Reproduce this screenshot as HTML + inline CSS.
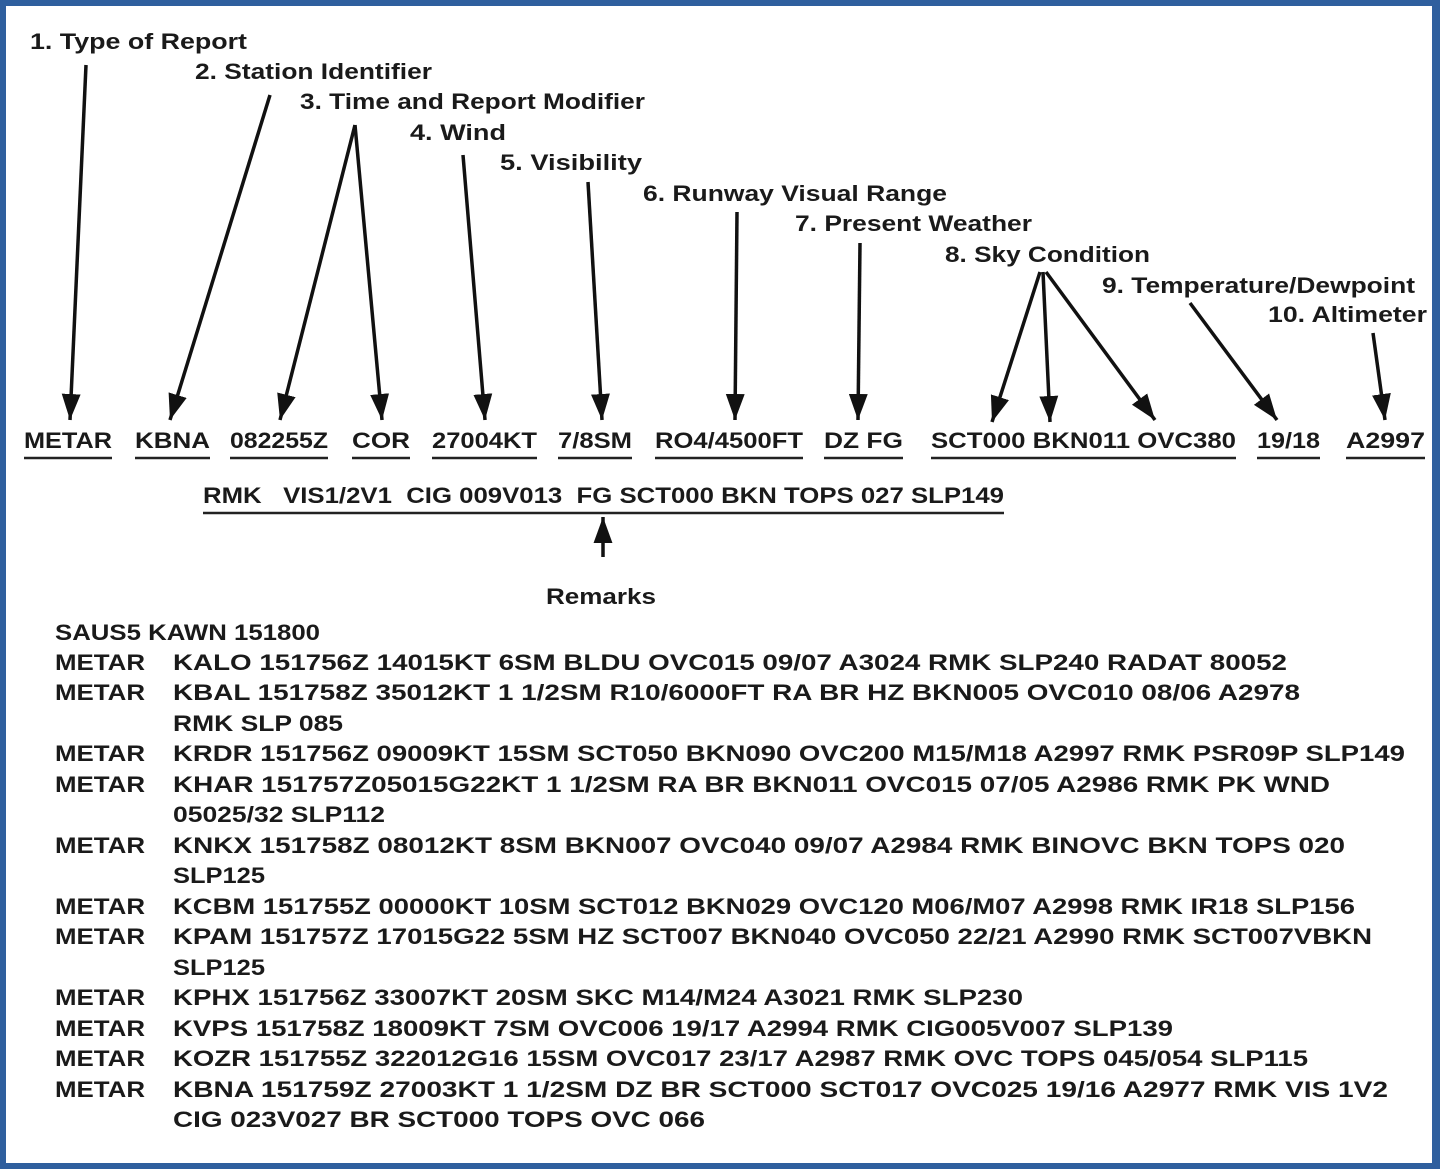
<!DOCTYPE html>
<html><head><meta charset="utf-8"><style>
html,body{margin:0;padding:0;background:#fff}
svg{display:block}
text{font-family:"Liberation Sans",Arial,sans-serif;font-weight:bold;font-size:22px;fill:#1a1a1a}
</style></head><body>
<svg width="1440" height="1169" viewBox="0 0 1440 1169" xmlns="http://www.w3.org/2000/svg">
<defs>
<marker id="a" viewBox="0 0 22 16" refX="22" refY="8" markerWidth="26" markerHeight="19" markerUnits="userSpaceOnUse" orient="auto"><path d="M0,0 L22,8 L0,16 z" fill="#111"/></marker>
</defs>
<rect x="0" y="0" width="1440" height="1169" fill="#2f5f9e"/>
<rect x="6" y="6" width="1426" height="1157" fill="#fff"/>
<g>
<text x="30" y="49" textLength="217" lengthAdjust="spacingAndGlyphs">1.  Type of Report</text>
<text x="195" y="79" textLength="237" lengthAdjust="spacingAndGlyphs">2.  Station Identifier</text>
<text x="300" y="109" textLength="345" lengthAdjust="spacingAndGlyphs">3.  Time and Report Modifier</text>
<text x="410" y="140" textLength="96" lengthAdjust="spacingAndGlyphs">4.  Wind</text>
<text x="500" y="170" textLength="142" lengthAdjust="spacingAndGlyphs">5.  Visibility</text>
<text x="643" y="201" textLength="304" lengthAdjust="spacingAndGlyphs">6.  Runway Visual Range</text>
<text x="795" y="231" textLength="237" lengthAdjust="spacingAndGlyphs">7.  Present Weather</text>
<text x="945" y="262" textLength="205" lengthAdjust="spacingAndGlyphs">8.  Sky Condition</text>
<text x="1102" y="293" textLength="313" lengthAdjust="spacingAndGlyphs">9.  Temperature/Dewpoint</text>
<text x="1268" y="322" textLength="159" lengthAdjust="spacingAndGlyphs">10.  Altimeter</text>
</g>
<g stroke="#111" stroke-width="3.5" fill="none" marker-end="url(#a)">
<line x1="86" y1="65" x2="70" y2="420"/>
<line x1="270" y1="95" x2="170" y2="420"/>
<line x1="355" y1="125" x2="280" y2="420"/>
<line x1="355" y1="125" x2="382" y2="420"/>
<line x1="463" y1="155" x2="485" y2="420"/>
<line x1="588" y1="182" x2="602" y2="420"/>
<line x1="737" y1="212" x2="735" y2="420"/>
<line x1="860" y1="243" x2="858" y2="420"/>
<line x1="1040" y1="272" x2="992" y2="422"/>
<line x1="1043" y1="272" x2="1050" y2="422"/>
<line x1="1046" y1="272" x2="1155" y2="420"/>
<line x1="1190" y1="303" x2="1277" y2="420"/>
<line x1="1373" y1="333" x2="1385" y2="420"/>
<line x1="603" y1="557" x2="603" y2="517"/>
</g>
<g>
<text x="24" y="448" textLength="88" lengthAdjust="spacingAndGlyphs">METAR</text>
<text x="135" y="448" textLength="75" lengthAdjust="spacingAndGlyphs">KBNA</text>
<text x="230" y="448" textLength="98" lengthAdjust="spacingAndGlyphs">082255Z</text>
<text x="352" y="448" textLength="58" lengthAdjust="spacingAndGlyphs">COR</text>
<text x="432" y="448" textLength="105" lengthAdjust="spacingAndGlyphs">27004KT</text>
<text x="558" y="448" textLength="74" lengthAdjust="spacingAndGlyphs">7/8SM</text>
<text x="655" y="448" textLength="148" lengthAdjust="spacingAndGlyphs">RO4/4500FT</text>
<text x="824" y="448" textLength="79" lengthAdjust="spacingAndGlyphs">DZ FG</text>
<text x="931" y="448" textLength="305" lengthAdjust="spacingAndGlyphs">SCT000 BKN011 OVC380</text>
<text x="1257" y="448" textLength="63" lengthAdjust="spacingAndGlyphs">19/18</text>
<text x="1346" y="448" textLength="79" lengthAdjust="spacingAndGlyphs">A2997</text>
<text x="203" y="503" textLength="801" lengthAdjust="spacingAndGlyphs" xml:space="preserve">RMK   VIS1/2V1  CIG 009V013  FG SCT000 BKN TOPS 027 SLP149</text>
<text x="546" y="604" textLength="110" lengthAdjust="spacingAndGlyphs">Remarks</text>
</g>
<g stroke="#222" stroke-width="2.5">
<line x1="24" y1="458" x2="112" y2="458"/>
<line x1="135" y1="458" x2="210" y2="458"/>
<line x1="230" y1="458" x2="328" y2="458"/>
<line x1="352" y1="458" x2="410" y2="458"/>
<line x1="432" y1="458" x2="537" y2="458"/>
<line x1="558" y1="458" x2="632" y2="458"/>
<line x1="655" y1="458" x2="803" y2="458"/>
<line x1="824" y1="458" x2="903" y2="458"/>
<line x1="931" y1="458" x2="1236" y2="458"/>
<line x1="1257" y1="458" x2="1320" y2="458"/>
<line x1="1346" y1="458" x2="1425" y2="458"/>
<line x1="203" y1="513" x2="1004" y2="513"/>
</g>
<g>
<text x="55" y="640" textLength="265" lengthAdjust="spacingAndGlyphs">SAUS5 KAWN 151800</text>
<text x="55" y="670" textLength="90" lengthAdjust="spacingAndGlyphs">METAR</text><text x="173" y="670" textLength="1114" lengthAdjust="spacingAndGlyphs">KALO  151756Z  14015KT  6SM  BLDU  OVC015  09/07  A3024  RMK  SLP240  RADAT  80052</text>
<text x="55" y="700" textLength="90" lengthAdjust="spacingAndGlyphs">METAR</text><text x="173" y="700" textLength="1127" lengthAdjust="spacingAndGlyphs">KBAL  151758Z  35012KT  1  1/2SM  R10/6000FT  RA  BR  HZ  BKN005  OVC010  08/06  A2978</text>
<text x="173" y="731" textLength="170" lengthAdjust="spacingAndGlyphs">RMK  SLP 085</text>
<text x="55" y="761" textLength="90" lengthAdjust="spacingAndGlyphs">METAR</text><text x="173" y="761" textLength="1232" lengthAdjust="spacingAndGlyphs">KRDR  151756Z  09009KT  15SM  SCT050  BKN090  OVC200  M15/M18  A2997  RMK  PSR09P  SLP149</text>
<text x="55" y="792" textLength="90" lengthAdjust="spacingAndGlyphs">METAR</text><text x="173" y="792" textLength="1157" lengthAdjust="spacingAndGlyphs">KHAR  151757Z05015G22KT  1  1/2SM  RA  BR  BKN011  OVC015  07/05  A2986  RMK  PK  WND</text>
<text x="173" y="822" textLength="212" lengthAdjust="spacingAndGlyphs">05025/32  SLP112</text>
<text x="55" y="853" textLength="90" lengthAdjust="spacingAndGlyphs">METAR</text><text x="173" y="853" textLength="1172" lengthAdjust="spacingAndGlyphs">KNKX  151758Z  08012KT  8SM  BKN007  OVC040  09/07  A2984  RMK  BINOVC  BKN  TOPS  020</text>
<text x="173" y="883" textLength="92" lengthAdjust="spacingAndGlyphs">SLP125</text>
<text x="55" y="914" textLength="90" lengthAdjust="spacingAndGlyphs">METAR</text><text x="173" y="914" textLength="1182" lengthAdjust="spacingAndGlyphs">KCBM  151755Z  00000KT  10SM  SCT012  BKN029  OVC120  M06/M07  A2998  RMK IR18  SLP156</text>
<text x="55" y="944" textLength="90" lengthAdjust="spacingAndGlyphs">METAR</text><text x="173" y="944" textLength="1199" lengthAdjust="spacingAndGlyphs">KPAM  151757Z  17015G22  5SM  HZ  SCT007  BKN040  OVC050  22/21  A2990  RMK  SCT007VBKN</text>
<text x="173" y="975" textLength="92" lengthAdjust="spacingAndGlyphs">SLP125</text>
<text x="55" y="1005" textLength="90" lengthAdjust="spacingAndGlyphs">METAR</text><text x="173" y="1005" textLength="850" lengthAdjust="spacingAndGlyphs">KPHX  151756Z  33007KT  20SM  SKC  M14/M24  A3021  RMK  SLP230</text>
<text x="55" y="1036" textLength="90" lengthAdjust="spacingAndGlyphs">METAR</text><text x="173" y="1036" textLength="1000" lengthAdjust="spacingAndGlyphs">KVPS  151758Z  18009KT  7SM  OVC006  19/17  A2994  RMK  CIG005V007  SLP139</text>
<text x="55" y="1066" textLength="90" lengthAdjust="spacingAndGlyphs">METAR</text><text x="173" y="1066" textLength="1135" lengthAdjust="spacingAndGlyphs">KOZR  151755Z  322012G16  15SM  OVC017  23/17  A2987  RMK OVC  TOPS  045/054  SLP115</text>
<text x="55" y="1097" textLength="90" lengthAdjust="spacingAndGlyphs">METAR</text><text x="173" y="1097" textLength="1215" lengthAdjust="spacingAndGlyphs">KBNA  151759Z  27003KT  1  1/2SM  DZ  BR  SCT000  SCT017  OVC025  19/16  A2977  RMK  VIS  1V2</text>
<text x="173" y="1127" textLength="532" lengthAdjust="spacingAndGlyphs">CIG  023V027  BR  SCT000  TOPS  OVC  066</text>
</g>
</svg>
</body></html>
